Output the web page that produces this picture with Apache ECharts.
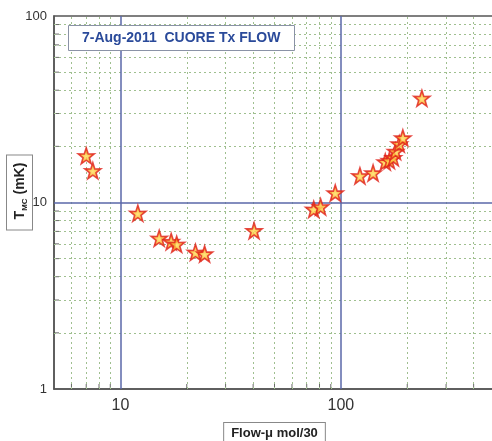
<!DOCTYPE html>
<html>
<head>
<meta charset="utf-8">
<script src="https://cdn.jsdelivr.net/npm/echarts@6/dist/echarts.min.js"></script>
<style>html,body{margin:0;padding:0;background:#fff;}#c{width:492px;height:441px;}</style>
</head>
<body>
<div id="c"></div>
<script>
// Data
const flow = [7.0, 7.5, 12.0, 15.0, 17.0, 18.0, 21.9, 24.1, 40.4, 75.3, 80.9, 94.3, 122, 140, 159, 166, 173, 177, 184, 191, 233];
const temp = [17.8, 14.8, 8.75, 6.43, 6.17, 5.97, 5.41, 5.30, 7.06, 9.19, 9.48, 11.25, 13.9, 14.4, 16.5, 16.8, 17.4, 18.8, 20.6, 22.2, 36.2];
// Axis ticks
const xMinor = [6, 7, 8, 9, 20, 30, 40, 50, 60, 70, 80, 90, 200, 300, 400];
const yMinor = [2, 3, 4, 5, 6, 7, 8, 9, 20, 30, 40, 50, 60, 70, 80, 90];
const xMajor = [10, 100];
const yMajor = [10];
const xRange = [5, 500];
const yRange = [1, 100];
const titleText = '7-Aug-2011  CUORE Tx FLOW';
const xName = 'Flow-μ mol/30';

const starPath = 'path://M50,0 L61.8,35.1 L97.6,34.5 L68.8,56.6 L79.4,90.5 L50,70 L20.6,90.5 L31.2,56.6 L2.4,34.5 L38.2,35.1 Z';
const FONT = "'Liberation Sans', Arial, sans-serif";
const isDecade = v => Math.abs(Math.log10(v) - Math.round(Math.log10(v))) < 1e-6;

const chart = echarts.init(document.getElementById('c'), null, {renderer: 'canvas'});
chart.setOption({
  animation: false,
  backgroundColor: '#fff',
  title: {
    text: titleText, left: 68, top: 25, padding: [5, 14, 5, 14],
    borderColor: '#8a92a6', borderWidth: 1, backgroundColor: '#fff',
    textStyle: {color: '#2a4a9a', fontSize: 14, fontWeight: 'bold', fontFamily: FONT, lineHeight: 16}
  },
  grid: {left: 54, top: 16, width: 441, height: 373, containLabel: false, outerBoundsMode: 'none', show: true, borderColor: '#555', borderWidth: 1.5, backgroundColor: 'transparent'},
  xAxis: {
    type: 'log', logBase: 10, min: xRange[0], max: xRange[1],
    name: xName, nameLocation: 'middle', nameGap: 34,
    nameTextStyle: {fontFamily: FONT, fontWeight: 'bold', fontSize: 13, color: '#222', borderColor: '#888', borderWidth: 1, padding: [4, 7, 4, 7], backgroundColor: '#fff'},
    axisLine: {show: true, lineStyle: {color: '#555', width: 1.5}},
    axisTick: {show: false},
    splitLine: {show: false},
    axisLabel: {fontFamily: FONT, fontSize: 16, color: '#333', margin: 9, formatter: v => isDecade(v) ? String(Math.round(v)) : ''}
  },
  yAxis: {
    type: 'log', logBase: 10, min: yRange[0], max: yRange[1],
    axisLine: {show: true, lineStyle: {color: '#555', width: 1.5}},
    axisTick: {show: false},
    splitLine: {show: false},
    axisLabel: {fontFamily: FONT, fontSize: 13, color: '#333', margin: 7, formatter: v => isDecade(v) ? String(Math.round(v)) : ''}
  },
  graphic: [{
    type: 'text', x: 19.5, y: 192.5, rotation: Math.PI / 2, z: 10,
    style: {
      text: '{a|T}{b|MC}{a| (mK)}',
      align: 'center', verticalAlign: 'middle',
      padding: [4, 7, 3, 10], borderColor: '#888', borderWidth: 1, backgroundColor: '#fff',
      rich: {
        a: {fontFamily: FONT, fontSize: 14, fontWeight: 'bold', fill: '#222', lineHeight: 18},
        b: {fontFamily: FONT, fontSize: 8, fontWeight: 'bold', fill: '#222', lineHeight: 18, verticalAlign: 'bottom', padding: [6, 0, 0, 0]}
      }
    }
  }],
  series: [
    {
      name: 'grid', type: 'scatter', silent: true, z: 1,
      symbol: 'rect', symbolSize: [1, 5], symbolOffset: [0, -2.5],
      itemStyle: {color: '#444'},
      data: xMinor.map(v => [v, yRange[0]]),
      markLine: {
        silent: true, symbol: 'none', label: {show: false}, animation: false,
        data: [
          ...xMinor.map(v => ({xAxis: v, lineStyle: {color: '#9fbf8f', type: [2, 3], width: 1}})),
          ...yMinor.map(v => ({yAxis: v, lineStyle: {color: '#9fbf8f', type: [2, 3], width: 1}})),
          ...xMajor.map(v => ({xAxis: v, lineStyle: {color: '#5a67a8', type: 'solid', width: 1.5}})),
          ...yMajor.map(v => ({yAxis: v, lineStyle: {color: '#5a67a8', type: 'solid', width: 1.5}}))
        ]
      }
    },
    {
      name: 'yticks', type: 'scatter', silent: true, z: 1,
      symbol: 'rect', symbolSize: [5, 1], symbolOffset: [2.5, 0],
      itemStyle: {color: '#444'},
      data: yMinor.map(v => [xRange[0], v])
    },
    {
      name: 'T_MC', type: 'scatter', z: 5,
      symbol: starPath, symbolSize: 16,
      itemStyle: {
        color: {type: 'radial', x: 0.5, y: 0.55, r: 0.5, colorStops: [{offset: 0, color: '#ffe45a'}, {offset: 0.6, color: '#f9a020'}, {offset: 1, color: '#f07018'}]},
        borderColor: '#e0201a', borderWidth: 1.6
      },
      data: flow.map((f, i) => [f, temp[i]])
    }
  ]
});
</script>
</body>
</html>
